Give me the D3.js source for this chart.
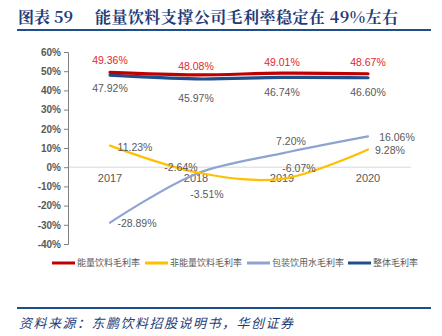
<!DOCTYPE html>
<html><head><meta charset="utf-8">
<script src="https://cdn.jsdelivr.net/npm/d3@7"></script>
<style>
html,body{margin:0;padding:0;background:#fff;}
svg{display:block;}
</style>
</head><body>
<svg id="c" width="442" height="336"></svg>
<script>
const categories = ["2017", "2018", "2019", "2020"];
const energyValues = [49.36, 48.08, 49.01, 48.67];
const nonEnergyValues = [11.23, -2.64, -6.07, 9.28];
const waterValues = [-28.89, -3.51, 7.20, 16.06];
const totalValues = [47.92, 45.97, 46.74, 46.60];
const seriesNames = ["能量饮料毛利率", "非能量饮料毛利率", "包装饮用水毛利率", "整体毛利率"];
const yTicks = [60, 50, 40, 30, 20, 10, 0, -10, -20, -30, -40];
const titleLabel = "图表 59";
const titleText = "能量饮料支撑公司毛利率稳定在 49%左右";
const sourceText = "资料来源：东鹏饮料招股说明书，华创证券";

const svg = d3.select("#c");
const navy = "#1F4E8C";
const font = "'Liberation Sans', Arial, 'Noto Sans CJK SC', sans-serif";
const cjk = "'Noto Sans CJK SC', sans-serif";
const serif = "'Noto Serif CJK SC','Noto Sans CJK SC',serif";

// title
svg.append("text").attr("x", 18).attr("y", 23)
  .attr("font-family", serif).attr("font-size", 16).attr("font-weight", "bold").attr("fill", "#1F3C78")
  .text(titleLabel);
svg.append("text").attr("x", 95).attr("y", 23)
  .attr("font-family", serif).attr("font-size", 16).attr("font-weight", "bold").attr("fill", "#1F3C78")
  .attr("textLength", 303).attr("lengthAdjust", "spacing")
  .text(titleText);
svg.append("line").attr("x1", 17).attr("x2", 431).attr("y1", 30).attr("y2", 30)
  .attr("stroke", navy).attr("stroke-width", 2);

// scales
const x = d3.scaleBand().domain(categories).range([67, 411]);
const y = d3.scaleLinear().domain([-40, 60]).range([244, 52]);
const cx = d => x(d) + x.bandwidth() / 2;

// zero gridline
svg.append("line").attr("x1", 67).attr("x2", 411).attr("y1", y(0)).attr("y2", y(0))
  .attr("stroke", "#D9D9D9").attr("stroke-width", 1);

// y axis
const yAxis = d3.axisLeft(y).tickValues(yTicks).tickFormat(d => d + "%").tickSize(4).tickPadding(3);
const ga = svg.append("g").attr("transform", "translate(68,0)").call(yAxis);
ga.select(".domain").attr("stroke", "#808080");
ga.selectAll(".tick line").attr("stroke", "#808080");
ga.selectAll(".tick text").attr("font-family", font).attr("font-size", 10)
  .attr("font-weight", "bold").attr("fill", "#595959");

// x axis labels (at zero line)
const xAxis = d3.axisBottom(x).tickSize(0).tickPadding(7);
const gx = svg.append("g").attr("transform", `translate(0,${y(0)})`).call(xAxis);
gx.select(".domain").remove();
gx.selectAll(".tick text").attr("font-family", font).attr("font-size", 11).attr("fill", "#595959");

const curve = d3.curveCatmullRom.alpha(0.5);
const series = [
  { name: seriesNames[0], values: energyValues, color: "#C00000", width: 3.2 },
  { name: seriesNames[1], values: nonEnergyValues, color: "#FFC000", width: 2.2 },
  { name: seriesNames[2], values: waterValues, color: "#8FA3D2", width: 2.2 },
  { name: seriesNames[3], values: totalValues, color: "#1F4E8C", width: 3.2 }
];
const line = d3.line().x((d, i) => cx(categories[i])).y(d => y(d)).curve(curve);

[series[2], series[1], series[3], series[0]].forEach(s => {
  svg.append("path").datum(s.values).attr("d", line)
    .attr("fill", "none").attr("stroke", s.color).attr("stroke-width", s.width)
    .attr("stroke-linecap", "round");
});

// data labels: offsets per series/point (layout only)
const labelOffsets = [
  [[0, -12], [0, -9], [0, -11], [0, -11]],
  [[25, 2], [-15, -5], [17, -11], [22, 1]],
  [[27, 1], [11, 20], [9, -12], [29, 1]],
  [[0, 13], [0, 19], [0, 15], [0, 15]]
];
const labelColors = ["#E0282E", "#595959", "#595959", "#595959"];
series.forEach((s, si) => {
  s.values.forEach((v, i) => {
    const o = labelOffsets[si][i];
    svg.append("text")
      .attr("x", cx(categories[i]) + o[0])
      .attr("y", y(v) + o[1])
      .attr("dy", "0.35em")
      .attr("text-anchor", "middle")
      .attr("font-family", font).attr("font-size", 10.5)
      .attr("fill", labelColors[si])
      .text(v.toFixed(2) + "%");
  });
});

// legend
const legendX = [52, 145, 247, 348];
series.forEach((s, i) => {
  const g = svg.append("g").attr("transform", `translate(${legendX[i]},263)`);
  g.append("line").attr("x1", 0).attr("x2", 23).attr("y1", 0).attr("y2", 0)
    .attr("stroke", s.color).attr("stroke-width", 3);
  g.append("text").attr("x", 25).attr("y", 0).attr("dy", "0.35em")
    .attr("font-family", cjk).attr("font-size", 9).attr("fill", "#595959")
    .text(s.name);
});

// footer
svg.append("line").attr("x1", 17).attr("x2", 431).attr("y1", 308).attr("y2", 308)
  .attr("stroke", navy).attr("stroke-width", 2);
svg.append("text").attr("x", 19).attr("y", 328)
  .attr("font-family", cjk).attr("font-size", 13).attr("font-style", "italic")
  .attr("textLength", 274).attr("lengthAdjust", "spacing")
  .attr("fill", "#1F3C78").text(sourceText);
</script>
</body></html>
